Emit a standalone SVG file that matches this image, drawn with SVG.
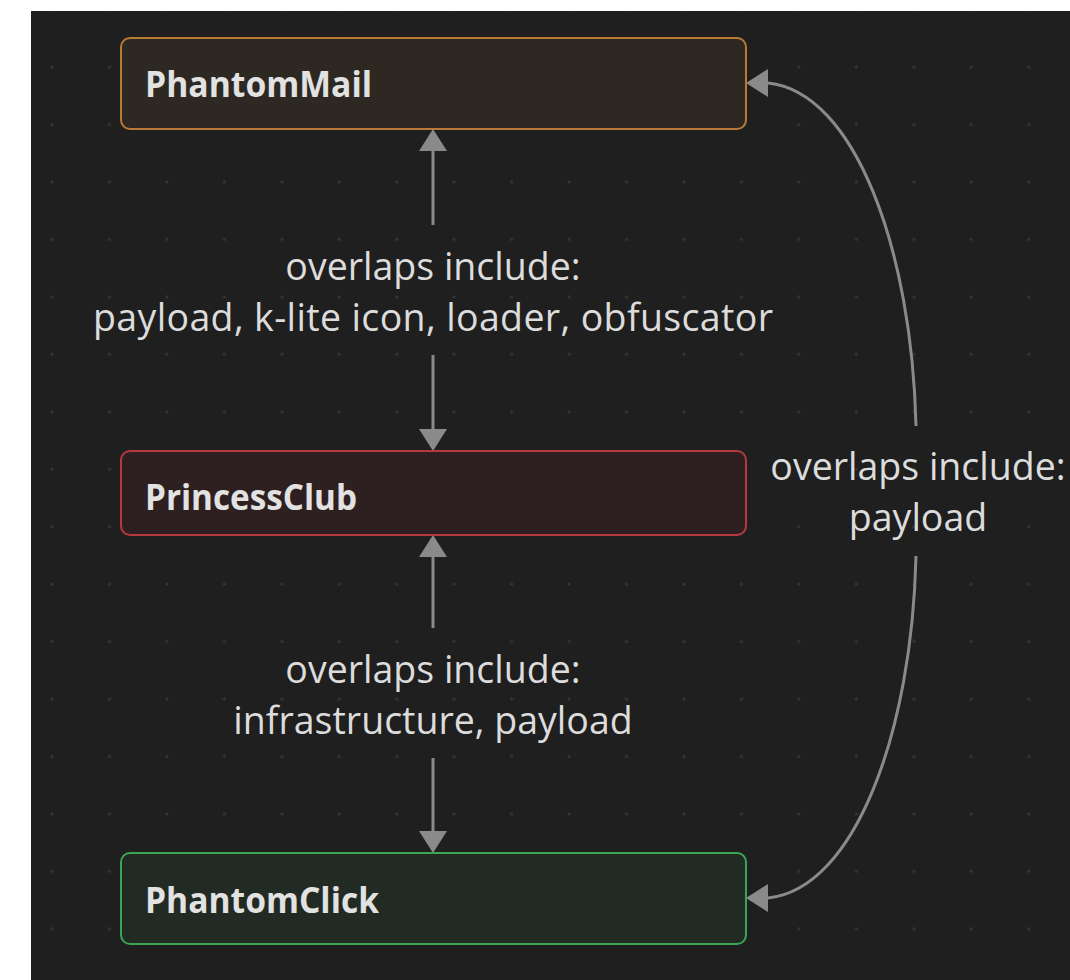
<svg xmlns="http://www.w3.org/2000/svg" width="1070" height="980" viewBox="0 0 1070 980">
<defs>
<pattern id="dots" patternUnits="userSpaceOnUse" x="23.3" y="38.3" width="57.45" height="57.45">
<circle cx="28.725" cy="28.725" r="1.6" fill="#363636"/>
</pattern>
<marker id="arrow" markerUnits="userSpaceOnUse" markerWidth="24" markerHeight="30" viewBox="0 -15 24 30" refX="11" refY="0" orient="auto">
<path d="M0,-14 L22,0 L0,14 Z" fill="#8a8a8a"/>
</marker>
<style>
.node rect{stroke-width:2}
.title{font-family:"Open Sans","Noto Sans",sans-serif;font-weight:700;font-size:35px;fill:#e2e2e2}
.lbl{font-family:"Open Sans","Noto Sans",sans-serif;font-size:37.5px;fill:#dcdcdc;text-anchor:middle}
.edge{fill:none;stroke:#8a8a8a;stroke-width:3;marker-end:url(#arrow)}
</style>
</defs>
<rect x="0" y="0" width="1070" height="980" fill="#ffffff"/>
<rect x="31" y="11" width="1039" height="969" fill="#1f1f1f"/>
<rect x="31" y="11" width="1039" height="969" fill="url(#dots)"/>

<g id="connectors">
<path class="edge" d="M433,225 V140"/>
<path class="edge" d="M433,355 V440"/>
<path class="edge" d="M433,628 V546"/>
<path class="edge" d="M433,758 V842"/>
<path class="edge" d="M916,426 C912,250 855,92 768,83 L757,83"/>
<path class="edge" d="M916,556 C912,732 855,889 768,898 L757,898"/>
<text class="lbl" x="433" y="280">overlaps include:</text>
<text class="lbl" x="433" y="331" textLength="680">payload, k-lite icon, loader, obfuscator</text>
<text class="lbl" x="433" y="683">overlaps include:</text>
<text class="lbl" x="433" y="734">infrastructure, payload</text>
<text class="lbl" x="918" y="480">overlaps include:</text>
<text class="lbl" x="918" y="531">payload</text>
</g>

<g id="PhantomMail" class="node">
<rect x="121" y="38" width="625" height="91" rx="9" fill="#2d2822" stroke="#b97a35"/>
<text class="title" x="145" y="97" textLength="227" lengthAdjust="spacingAndGlyphs">PhantomMail</text>
</g>
<g id="PrincessClub" class="node">
<rect x="121" y="451" width="625" height="84" rx="9" fill="#2e2020" stroke="#b5393f"/>
<text class="title" x="145" y="510" textLength="212" lengthAdjust="spacingAndGlyphs">PrincessClub</text>
</g>
<g id="PhantomClick" class="node">
<rect x="121" y="853" width="625" height="91" rx="9" fill="#222a24" stroke="#3aa552"/>
<text class="title" x="145" y="913" textLength="234" lengthAdjust="spacingAndGlyphs">PhantomClick</text>
</g>
</svg>
